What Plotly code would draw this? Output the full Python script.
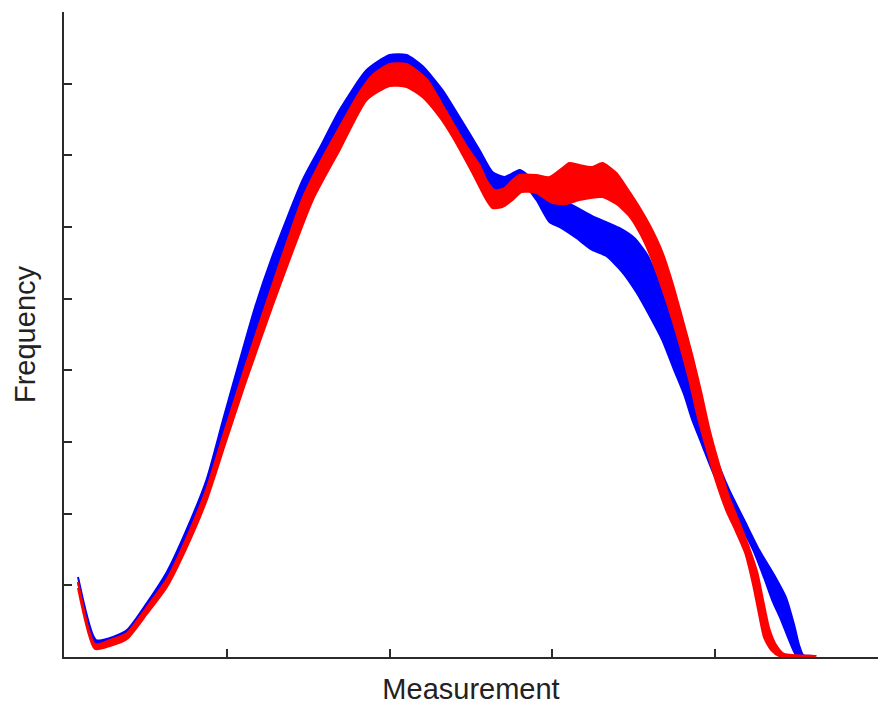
import plotly.graph_objects as go

# ---- data (arbitrary units) ----
blue_upper_x = [0.086, 0.196, 0.282, 0.387, 0.509, 0.632, 0.755, 0.877, 0.975, 1.080, 1.172, 1.276, 1.466, 1.571, 1.693, 1.859, 2.000, 2.104, 2.202, 2.325, 2.429, 2.552, 2.632, 2.706, 2.798, 2.840, 2.920, 3.000, 3.104, 3.245, 3.411, 3.503, 3.583, 3.656, 3.718, 3.779, 3.840, 3.902, 3.975, 4.086, 4.178, 4.270, 4.362, 4.436, 4.485, 4.515, 4.540, 4.595]
blue_upper_y = [1.116, 0.237, 0.265, 0.377, 0.753, 1.186, 1.786, 2.484, 3.293, 4.144, 4.870, 5.567, 6.656, 7.102, 7.632, 8.190, 8.400, 8.400, 8.246, 7.911, 7.535, 7.074, 6.767, 6.697, 6.795, 6.739, 6.516, 6.376, 6.321, 6.153, 5.986, 5.846, 5.609, 5.232, 4.870, 4.423, 3.935, 3.446, 2.958, 2.330, 1.912, 1.493, 1.144, 0.823, 0.446, 0.167, 0.028, 0.014]

blue_lower_x = [0.086, 0.190, 0.282, 0.387, 0.509, 0.632, 0.755, 0.877, 0.988, 1.110, 1.294, 1.466, 1.571, 1.693, 1.859, 2.000, 2.104, 2.202, 2.325, 2.429, 2.540, 2.613, 2.693, 2.767, 2.828, 2.902, 2.982, 3.043, 3.147, 3.245, 3.331, 3.429, 3.515, 3.595, 3.675, 3.748, 3.810, 3.859, 3.920, 3.994, 4.086, 4.147, 4.239, 4.301, 4.350, 4.405, 4.454, 4.497, 4.546]
blue_lower_y = [1.046, 0.167, 0.195, 0.293, 0.670, 1.060, 1.619, 2.302, 3.139, 3.977, 5.190, 6.335, 6.823, 7.325, 7.883, 8.051, 8.051, 7.911, 7.604, 7.214, 6.767, 6.488, 6.488, 6.572, 6.586, 6.376, 6.069, 6.000, 5.846, 5.679, 5.595, 5.372, 5.093, 4.772, 4.423, 4.004, 3.656, 3.307, 2.958, 2.539, 2.149, 1.884, 1.465, 1.102, 0.795, 0.516, 0.237, 0.028, 0.000]

red_upper_x = [0.086, 0.190, 0.282, 0.387, 0.509, 0.632, 0.755, 0.877, 0.988, 1.110, 1.294, 1.466, 1.571, 1.693, 1.816, 1.896, 2.000, 2.104, 2.227, 2.350, 2.472, 2.552, 2.595, 2.644, 2.706, 2.755, 2.798, 2.902, 2.982, 3.061, 3.104, 3.166, 3.245, 3.307, 3.393, 3.454, 3.534, 3.607, 3.675, 3.736, 3.798, 3.859, 3.914, 3.963, 4.025, 4.086, 4.147, 4.209, 4.258, 4.294, 4.331, 4.374, 4.423, 4.620]
red_upper_y = [1.046, 0.181, 0.237, 0.335, 0.698, 1.088, 1.674, 2.358, 3.167, 4.032, 5.288, 6.404, 6.893, 7.395, 7.883, 8.121, 8.274, 8.274, 8.065, 7.604, 7.130, 6.865, 6.656, 6.516, 6.544, 6.656, 6.725, 6.725, 6.697, 6.823, 6.893, 6.865, 6.837, 6.893, 6.753, 6.558, 6.279, 5.986, 5.651, 5.232, 4.730, 4.214, 3.698, 3.195, 2.679, 2.232, 1.884, 1.521, 1.186, 0.795, 0.405, 0.167, 0.042, 0.014]

red_lower_x = [0.086, 0.190, 0.282, 0.387, 0.509, 0.632, 0.755, 0.877, 0.988, 1.110, 1.294, 1.528, 1.693, 1.859, 2.000, 2.104, 2.202, 2.307, 2.387, 2.509, 2.595, 2.632, 2.693, 2.755, 2.810, 2.902, 3.000, 3.086, 3.166, 3.307, 3.393, 3.472, 3.534, 3.595, 3.656, 3.718, 3.779, 3.840, 3.890, 3.945, 4.006, 4.067, 4.129, 4.184, 4.233, 4.270, 4.301, 4.344, 4.393, 4.454]
red_lower_y = [0.963, 0.112, 0.153, 0.251, 0.600, 0.977, 1.535, 2.191, 2.958, 3.795, 4.981, 6.376, 7.074, 7.772, 7.967, 7.953, 7.814, 7.535, 7.256, 6.753, 6.376, 6.265, 6.279, 6.376, 6.488, 6.474, 6.335, 6.321, 6.376, 6.418, 6.321, 6.153, 5.930, 5.637, 5.260, 4.842, 4.381, 3.865, 3.377, 2.916, 2.442, 2.051, 1.744, 1.451, 1.005, 0.586, 0.265, 0.098, 0.014, 0.000]

x_ticks = [1, 2, 3, 4]
y_ticks = [1, 2, 3, 4, 5, 6, 7, 8, 9]
x_title = "Measurement"
y_title = "Frequency"

fig = go.Figure()

for ux, uy, lx, ly, col in [
    (blue_upper_x, blue_upper_y, blue_lower_x, blue_lower_y, "#0000ff"),
    (red_upper_x, red_upper_y, red_lower_x, red_lower_y, "#ff0000"),
]:
    fig.add_trace(go.Scatter(
        x=ux + lx[::-1], y=uy + ly[::-1],
        mode="lines", fill="toself", fillcolor=col,
        line=dict(color=col, width=2, shape="spline", smoothing=0.6),
        hoverinfo="skip", showlegend=False,
    ))

axis_col = "#2b2b2b"
fig.update_layout(
    width=878, height=710,
    margin=dict(l=64, r=0, t=12, b=53),
    paper_bgcolor="white", plot_bgcolor="white",
    font=dict(family="Liberation Sans, Arial, sans-serif", color="#222222"),
    showlegend=False,
)
fig.update_xaxes(
    range=[0, 5], showgrid=False, zeroline=False,
    showline=True, linecolor=axis_col, linewidth=2,
    ticks="inside", ticklen=8, tickwidth=2, tickcolor=axis_col,
    tickvals=x_ticks, showticklabels=False,
    title=dict(text=x_title, font=dict(size=29), standoff=21),
)
fig.update_yaxes(
    range=[0, 9], showgrid=False, zeroline=False,
    showline=True, linecolor=axis_col, linewidth=2,
    ticks="inside", ticklen=8, tickwidth=2, tickcolor=axis_col,
    tickvals=y_ticks, showticklabels=False,
    title=dict(text=y_title, font=dict(size=29), standoff=18),
)

fig.write_html("out.html")
